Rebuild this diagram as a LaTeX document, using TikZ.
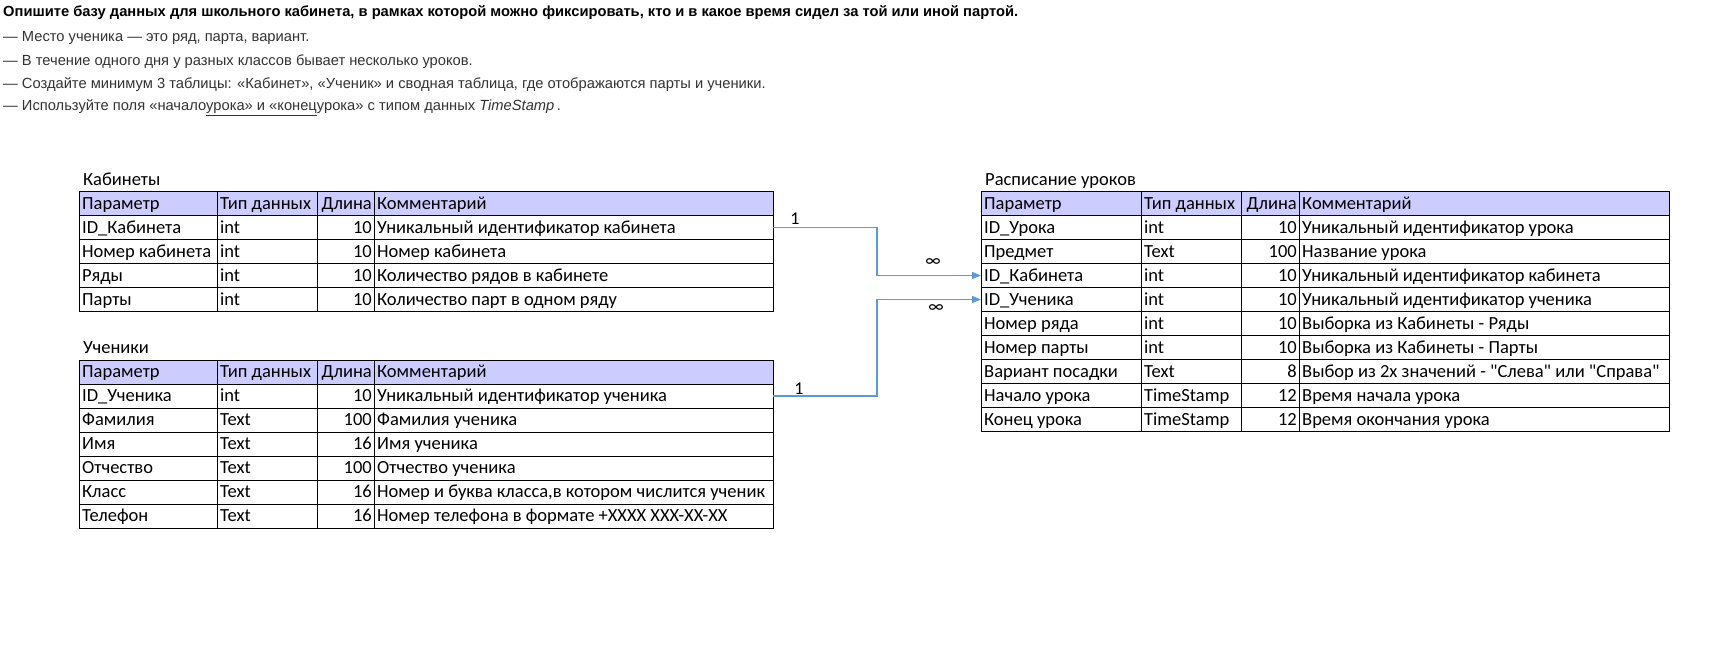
\documentclass[tikz,border=0pt]{standalone}
\usepackage{fontspec}
\setmainfont{Carlito}[Ligatures=TeXOff]
\newfontfamily\arialf{Liberation Sans}
\usetikzlibrary{arrows.meta}
\definecolor{hdr}{HTML}{CCCCFF}
\definecolor{conn}{HTML}{5B9BD5}
\definecolor{txtg}{HTML}{333333}
\tikzset{
  rowbox/.style={draw=black,line width=1pt,minimum height=24pt,inner sep=0pt,outer sep=0pt},
  cellt/.style={inner sep=0pt,font=\fontsize{18.5}{21}\selectfont},
  ttl/.style={inner sep=0pt,anchor=base west,font=\fontsize{18.5}{21}\selectfont},
  grid/.style={draw=black,line width=1pt},
  topline/.style={inner sep=0pt,anchor=west,text=txtg,font=\arialf\fontsize{14.7}{18}\selectfont},
  conline/.style={draw=conn,line width=1.3pt,-{Triangle[length=9pt,width=7pt]}},
  conlab/.style={inner sep=0pt,font=\fontsize{18}{20}\selectfont}
}
\newcommand{\mkrow}[7]{%
  \node[rowbox,fill=#3,minimum width=\tw pt,anchor=north west] (#1) at (\tx,#2) {};
  \node[cellt,anchor=base west] (#1p) at (\tx+3,#2+17.5) {#4};
  \node[cellt,anchor=base west] (#1t) at (\cA+3,#2+17.5) {#5};
  \node[cellt,anchor=base east] (#1l) at (\cC-2,#2+17.5) {#6};
  \node[cellt,anchor=base west] (#1c) at (\cC+3,#2+17.5) {#7};
}
\newcommand{\mkcols}[2]{%
  \draw[grid] (\cA,#1) -- (\cA,#2);
  \draw[grid] (\cB,#1) -- (\cB,#2);
  \draw[grid] (\cC,#1) -- (\cC,#2);
}
\begin{document}
\begin{tikzpicture}[x=1pt,y=-1pt]
\path[use as bounding box,fill=white] (0,0) rectangle (1725,667);

% heading text
\node[topline,text=black,font=\arialf\bfseries\fontsize{14.7}{18}\selectfont] (h0) at (3,13) {Опишите базу данных для школьного кабинета, в рамках которой можно фиксировать, кто и в какое время сидел за той или иной партой.};
\node[topline] (h1) at (3,37.5) {— Место ученика — это ряд, парта, вариант.};
\node[topline] (h2) at (3,61.5) {— В течение одного дня у разных классов бывает несколько уроков.};
\node[topline] (h3) at (3,84.5) {— Создайте минимум 3 таблицы: «Кабинет», «Ученик» и сводная таблица, где отображаются парты и ученики.};
\node[topline] (h4) at (3,108) {— Используйте поля «начало\underline{урока» и «конец}урока» с типом данных \textit{TimeStamp}\,.};

% ---------- Кабинеты ----------
\def\tx{79}\def\tw{694}\def\cA{217}\def\cB{317}\def\cC{374}
\node[ttl] (kabttl) at (83,185) {Кабинеты};
\mkrow{k0}{191.5}{hdr}{Параметр}{Тип данных}{Длина}{Комментарий}
\mkrow{k1}{215.5}{white}{ID\_Кабинета}{int}{10}{Уникальный идентификатор кабинета}
\mkrow{k2}{239.5}{white}{Номер кабинета}{int}{10}{Номер кабинета}
\mkrow{k3}{263.5}{white}{Ряды}{int}{10}{Количество рядов в кабинете}
\mkrow{k4}{287.5}{white}{Парты}{int}{10}{Количество парт в одном ряду}
\mkcols{191.5}{311.5}

% ---------- Ученики ----------
\node[ttl] (uchttl) at (83,353.5) {Ученики};
\mkrow{u0}{360}{hdr}{Параметр}{Тип данных}{Длина}{Комментарий}
\mkrow{u1}{384}{white}{ID\_Ученика}{int}{10}{Уникальный идентификатор ученика}
\mkrow{u2}{408}{white}{Фамилия}{Text}{100}{Фамилия ученика}
\mkrow{u3}{432}{white}{Имя}{Text}{16}{Имя ученика}
\mkrow{u4}{456}{white}{Отчество}{Text}{100}{Отчество ученика}
\mkrow{u5}{480}{white}{Класс}{Text}{16}{Номер и буква класса,в котором числится ученик}
\mkrow{u6}{504}{white}{Телефон}{Text}{16}{Номер телефона в формате +XXXX XXX-XX-XX}
\mkcols{360}{528}

% ---------- Расписание уроков ----------
\def\tx{981}\def\tw{688}\def\cA{1141}\def\cB{1241}\def\cC{1299}
\node[ttl] (rasttl) at (985,185) {Расписание уроков};
\mkrow{r0}{191.5}{hdr}{Параметр}{Тип данных}{Длина}{Комментарий}
\mkrow{r1}{215.5}{white}{ID\_Урока}{int}{10}{Уникальный идентификатор урока}
\mkrow{r2}{239.5}{white}{Предмет}{Text}{100}{Название урока}
\mkrow{r3}{263.5}{white}{ID\_Кабинета}{int}{10}{Уникальный идентификатор кабинета}
\mkrow{r4}{287.5}{white}{ID\_Ученика}{int}{10}{Уникальный идентификатор ученика}
\mkrow{r5}{311.5}{white}{Номер ряда}{int}{10}{Выборка из Кабинеты - Ряды}
\mkrow{r6}{335.5}{white}{Номер парты}{int}{10}{Выборка из Кабинеты - Парты}
\mkrow{r7}{359.5}{white}{Вариант посадки}{Text}{8}{Выбор из 2х значений - "Слева" или "Справа"}
\mkrow{r8}{383.5}{white}{Начало урока}{TimeStamp}{12}{Время начала урока}
\mkrow{r9}{407.5}{white}{Конец урока}{TimeStamp}{12}{Время окончания урока}
\mkcols{191.5}{431.5}

% ---------- connectors ----------
\coordinate (bend1) at (877,0);
\draw[conline] (k1.east) -- (k1.east -| bend1) |- (r3.west);
\draw[conline] (u1.east) -- (u1.east -| bend1) |- (r4.west);
\node[conlab] (one1) at (795,219) {1};
\node[conlab] (inf1) at (933,263) {∞};
\node[conlab] (one2) at (799,389) {1};
\node[conlab] (inf2) at (936,309) {∞};
\end{tikzpicture}
\end{document}
